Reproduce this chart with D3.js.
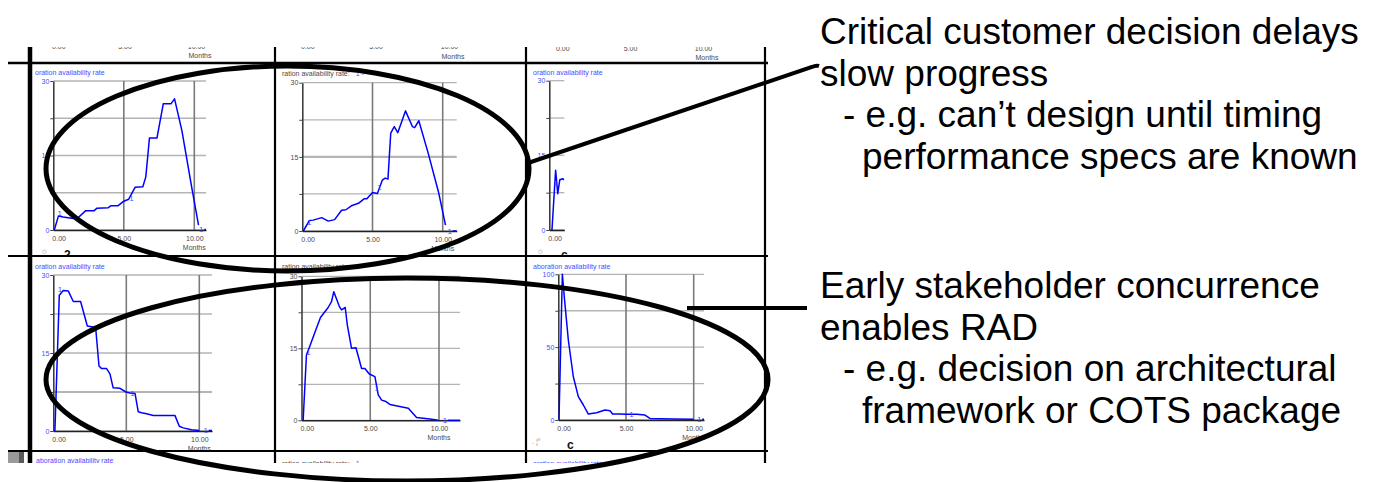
<!DOCTYPE html>
<html><head><meta charset="utf-8">
<script src="https://cdn.jsdelivr.net/npm/d3@7"></script>
<style>
html,body{margin:0;padding:0;background:#fff;}
svg{display:block;font-family:"Liberation Sans",Arial,sans-serif;}
</style></head><body>
<svg id="c" width="1374" height="482"></svg>
<script>
// ---------- data ----------
const xTickValues = [0, 5, 10];
const xTickLabels = ["0.00", "5.00", "10.00"];
const xAxisTitle = "Months";
const yTicks30 = [0, 15, 30];
const yMinor30 = [7.5, 22.5];
const yTicks100 = [0, 50, 100];
const yMinor100 = [25, 75];

const titleBlue = "oration availability rate";
const titleBlue2 = "aboration availability rate";
const titleGray = "ration availability rate:";
const titleGrayKey = "1 -";

// panel 1 (top-left)
const p1Months = [0.07,0.36,0.7,1.66,2.3,2.9,3.1,3.9,4.1,4.6,5.0,5.35,5.8,6.35,6.56,6.82,7.35,7.8,8.34,8.6,9.12,9.83,10.3];
const p1Rate   = [0,2.8,2.6,2.2,3.9,3.9,4.4,4.5,4.9,4.9,5.8,6.2,8.6,8.7,10.7,18.5,18.5,25.4,25.4,26.4,20,8.4,1.0];
const p1MarkM  = [0.45,5.55,10.5];
const p1MarkV  = [3.4,6.4,0.1];
// panel 2 (top-middle)
const p2Months = [0.07,0.5,0.78,1.38,1.85,2.3,2.8,3.1,3.5,4.0,4.4,4.6,5.0,5.35,5.7,5.9,6.1,6.3,6.55,6.8,7.35,7.85,8.0,8.3,8.97,9.7,10.2];
const p2Rate   = [0,2.1,2.2,2.7,2.0,2.3,4.2,4.3,5.1,5.6,6.5,6.5,7.8,7.6,10.3,10.7,10.5,19.8,21.1,19.9,24.3,21.1,20.9,22.3,15.7,7.9,1.2];
const p2MarkM  = [0.5,5.5,10.5];
const p2MarkV  = [1.7,8.9,0];
// panel 3 (top-right)
const p3Months = [0.19,0.45,0.5,0.6,0.75,0.95,1.07];
const p3Rate   = [0,12.0,10.5,7.3,10.1,10.3,10.1];
const p3MarkM  = [0.46];
const p3MarkV  = [9.5];
// panel 4 (bottom-left)
const p4Months = [0.11,0.41,0.68,1.03,1.37,1.87,2.33,2.9,3.13,3.31,3.65,3.88,4.1,4.57,4.98,5.25,5.6,5.82,6.05,6.39,6.85,8.33,8.63,8.9,9.47,10.0];
const p4Rate   = [0,26.1,27,26.9,24.9,24.9,20.2,19.9,12.5,12.0,12.0,11.0,8.3,8.2,7.5,7.3,7.2,3.7,3.5,3.3,3.0,3.0,0.9,0.6,0.26,0.1];
const p4MarkM  = [0.46,5.43,10.44];
const p4MarkV  = [27.2,7.25,0.1];
// panel 5 (bottom-middle)
const p5Months = [0.12,0.36,0.61,0.97,1.38,1.94,2.18,2.35,2.74,2.91,3.18,3.33,3.64,3.96,4.37,4.61,4.93,5.34,5.58,5.83,6.14,6.43,7.77,8.37,9.34,9.95];
const p5Rate   = [0,13.6,15.5,18.3,21.4,23.5,24.7,26.8,23.8,23.0,23.5,19.9,15.0,15.1,10.8,10.8,9.65,9.1,5.3,4.2,3.9,3.3,2.5,0.56,0.28,0];
const p5MarkM  = [0.5,5.47,10.44];
const p5MarkV  = [14.1,6.7,0];
// panel 6 (bottom-right)
const p6Months = [0.05,0.30,0.44,0.74,1.11,1.48,1.85,2.22,2.83,3.45,3.82,4.01,4.56,5.0,5.79,6.4,6.77,7.5,8.5,10.0];
const p6Rate   = [0,100,84.7,54.9,29.7,16,10.3,4.1,5.0,6.9,6.4,4.1,4.1,3.9,3.9,3.4,1.1,0.9,0.7,0.5];
const p6MarkM  = [0.32,5.41,10.41];
const p6MarkV  = [89.7,3.9,0.5];

const noteTop = ["Critical customer decision delays", "slow progress", "- e.g. can\u2019t design until timing", "performance specs are known"];
const noteBottom = ["Early stakeholder concurrence", "enables RAD", "- e.g. decision on architectural", "framework or COTS package"];

// ---------- drawing ----------
const BLUE = "#0000ff", TBLUE = "#4a4aff", TGRAY = "#4a4a4a";
const svg = d3.select("#c");
const defs = svg.append("defs");
defs.append("clipPath").attr("id", "scr")
  .append("rect").attr("x", 6).attr("y", 47).attr("width", 764).attr("height", 416);
defs.append("clipPath").attr("id", "row1")
  .append("rect").attr("x", 6).attr("y", 64).attr("width", 764).attr("height", 191);
defs.append("clipPath").attr("id", "row2")
  .append("rect").attr("x", 6).attr("y", 257).attr("width", 764).attr("height", 193);
const scr = svg.append("g").attr("clip-path", "url(#scr)");

function xAxisLabels(g, x, yB, ticks, monthsY) {
  const ax = d3.axisBottom(x).tickValues(ticks).tickSize(0).tickPadding(6)
    .tickFormat(d => xTickLabels[xTickValues.indexOf(d)]);
  const a = g.append("g").attr("transform", `translate(0,${yB})`).call(ax);
  a.select(".domain").remove();
  a.selectAll("text").attr("font-size", 7).attr("fill", TGRAY)
    .attr("font-family", "Liberation Sans, Arial, sans-serif")
    .attr("text-anchor", d => d === 0 ? "start" : "middle")
    .attr("dx", d => d === 0 ? -1.5 : 0);
  if (monthsY !== null && ticks.includes(10)) {
    g.append("text").attr("x", x(10)).attr("y", monthsY).attr("text-anchor", "middle")
      .attr("font-size", 7).attr("fill", TGRAY).text(xAxisTitle);
  }
}

function panel(cfg, months, rates, mM, mV) {
  const xMax = 10 * (cfg.xR - cfg.x0) / (cfg.x10 - cfg.x0);
  const x = d3.scaleLinear().domain([0, xMax]).range([cfg.x0, cfg.xR]);
  const y = d3.scaleLinear().domain([0, cfg.yMax]).range([cfg.yB, cfg.yT]);
  const g = scr.append("g").attr("clip-path", `url(#${cfg.row})`);
  const majors = cfg.yMax === 100 ? yTicks100 : yTicks30;
  const minors = cfg.yMax === 100 ? yMinor100 : yMinor30;
  const allY = majors.concat(minors).sort((a, b) => a - b);
  // horizontal grid
  g.selectAll(null).data(allY).join("line")
    .attr("x1", cfg.x0).attr("x2", cfg.xR).attr("y1", d => y(d)).attr("y2", d => y(d))
    .attr("stroke", "#b4b4b4").attr("stroke-width", d => (cfg.thick === d ? 2.2 : 1.3));
  // vertical grid
  g.selectAll(null).data([5, 10].filter(d => d <= xMax)).join("line")
    .attr("x1", d => x(d)).attr("x2", d => x(d)).attr("y1", cfg.yT).attr("y2", cfg.yB)
    .attr("stroke", "#7a7a7a").attr("stroke-width", 1.6);
  // y axis
  const ya = g.append("g").attr("transform", `translate(${cfg.x0},0)`)
    .call(d3.axisLeft(y).tickValues(allY).tickSize(3).tickSizeOuter(0).tickPadding(1)
      .tickFormat(d => majors.includes(d) ? d : ""));
  ya.select(".domain").attr("stroke", "#333").attr("stroke-width", 1.5);
  ya.selectAll(".tick line").attr("stroke", "#444");
  ya.selectAll("text").attr("font-size", 7).attr("fill", cfg.yCol)
    .attr("font-family", "Liberation Sans, Arial, sans-serif");
  // x axis line
  const xa = g.append("g").attr("transform", `translate(0,${cfg.yB})`)
    .call(d3.axisBottom(x).tickValues([]).tickSizeOuter(0));
  xa.select(".domain").attr("stroke", "#222").attr("stroke-width", 1.6);
  xAxisLabels(g, x, cfg.yB, xTickValues.filter(d => d <= xMax), cfg.yB + 19.5);
  // title
  const t = g.append("text").attr("x", cfg.tx).attr("y", cfg.ty).attr("font-size", 7);
  if (cfg.gray) {
    t.append("tspan").attr("fill", TGRAY).text(titleGray);
    t.append("tspan").attr("fill", TBLUE).attr("dx", 6).text(titleGrayKey);
  } else {
    t.attr("fill", TBLUE).text(cfg.title);
  }
  // series
  const pts = d3.zip(months, rates);
  const pc = g.append("g");
  pc.append("clipPath").attr("id", "pc" + cfg.id).append("rect")
    .attr("x", cfg.x0).attr("y", cfg.yT - 4).attr("width", cfg.xR - cfg.x0).attr("height", cfg.yB - cfg.yT + 6);
  pc.append("path").attr("clip-path", `url(#pc${cfg.id})`).datum(pts)
    .attr("d", d3.line().x(d => x(d[0])).y(d => y(d[1])))
    .attr("fill", "none").attr("stroke", BLUE).attr("stroke-width", 1.5).attr("stroke-linejoin", "round");
  const mk = d3.zip(mM, mV);
  g.selectAll(null).data(mk).join("text")
    .attr("x", d => x(d[0])).attr("y", d => y(d[1])).attr("dy", "0.35em")
    .attr("text-anchor", "middle").attr("font-size", 8).attr("fill", TBLUE).text("1");
  if (cfg.endDash) {
    const last = mk[mk.length - 1];
    g.append("line").attr("x1", x(last[0]) + 3).attr("x2", cfg.xR)
      .attr("y1", y(last[1])).attr("y2", y(last[1]))
      .attr("stroke", BLUE).attr("stroke-width", 1.5);
  }
  return g;
}

// remnants of upper panels (tick labels cut by the screenshot edge)
function remnant(x0, x10, yLab, yMonths) {
  const x = d3.scaleLinear().domain([0, 10]).range([x0, x10]);
  const g = scr.append("g");
  xAxisLabels(g, x, yLab - 11, xTickValues, null);
  g.append("text").attr("x", x(10) + 4).attr("y", yMonths).attr("text-anchor", "middle")
    .attr("font-size", 7).attr("fill", TGRAY).text(xAxisTitle);
}
remnant(53, 196, 48.8, 58);
remnant(302, 449, 48.8, 59);
remnant(557, 703, 51.5, 60);

const g1 = panel({id:1, row:"row1", x0:53.3, x10:194.3, xR:206, yT:81, yB:230, yMax:30, tx:35, ty:75, title:titleBlue, yCol:TBLUE, endDash:true}, p1Months, p1Rate, p1MarkM, p1MarkV);
panel({id:2, row:"row1", x0:302.3, x10:442.7, xR:456.7, yT:82.7, yB:231, yMax:30, tx:282, ty:76, gray:true, yCol:TGRAY, endDash:true, thick:15}, p2Months, p2Rate, p2MarkM, p2MarkV);
const g3 = panel({id:3, row:"row1", x0:549.3, x10:689.7, xR:564.3, yT:80.7, yB:230, yMax:30, tx:533, ty:75, title:titleBlue, yCol:TBLUE, endDash:false}, p3Months, p3Rate, p3MarkM, p3MarkV);
panel({id:4, row:"row2", x0:53.3, x10:199.3, xR:212, yT:275, yB:431, yMax:30, tx:35, ty:268.5, title:titleBlue, yCol:TBLUE, endDash:true, thick:7.5}, p4Months, p4Rate, p4MarkM, p4MarkV);
panel({id:5, row:"row2", x0:301.5, x10:439, xR:460, yT:276.3, yB:420.3, yMax:30, tx:282, ty:269, gray:true, yCol:TGRAY, endDash:true}, p5Months, p5Rate, p5MarkM, p5MarkV);
const g6 = panel({id:6, row:"row2", x0:558.3, x10:693.7, xR:704, yT:274.3, yB:420, yMax:100, tx:533, ty:268.5, title:titleBlue2, yCol:TBLUE, endDash:true}, p6Months, p6Rate, p6MarkM, p6MarkV);

// small cut icons inside the panels (clipped by panel bottom)
[[g1, 40, 254, "\u263C"], [g3, 536, 254, "\u263C"]].forEach(d =>
  d[0].append("text").attr("x", d[1]).attr("y", d[2]).attr("font-size", 9).attr("fill", "#999").text(d[3]));
[[g1, 64, 259, "2"], [g3, 561, 259, "c"], [g6, 567, 449, "c"]].forEach(d =>
  d[0].append("text").attr("x", d[1]).attr("y", d[2]).attr("font-size", 12).attr("font-weight", "bold").attr("fill", "#111").text(d[3]));
g6.append("text").attr("x", 532).attr("y", 444).attr("font-size", 7).attr("fill", "#777").text(".  \u00A6\u00B0");

// bottom remnants (next row titles, cut)
scr.append("text").attr("x", 36).attr("y", 462.5).attr("font-size", 7).attr("fill", TBLUE).text(titleBlue2);
const bm = scr.append("text").attr("x", 282).attr("y", 465.5).attr("font-size", 7);
bm.append("tspan").attr("fill", TGRAY).text(titleGray);
bm.append("tspan").attr("fill", TBLUE).attr("dx", 6).text("1");
scr.append("text").attr("x", 533).attr("y", 465.5).attr("font-size", 7).attr("fill", TBLUE).text("aration availability rate");
scr.append("rect").attr("x", 8).attr("y", 452).attr("width", 12).attr("height", 11).attr("fill", "#9a9a9a");
scr.append("rect").attr("x", 19).attr("y", 452).attr("width", 5).attr("height", 11).attr("fill", "#5a5a5a");

// frame lines
const hLines = [63, 256, 451];
scr.selectAll(null).data(hLines).join("line")
  .attr("x1", 8).attr("x2", 768).attr("y1", d => d).attr("y2", d => d)
  .attr("stroke", "#000").attr("stroke-width", (d, i) => i === 0 ? 2.6 : 2.2);
const vLines = [30, 275, 526, 765];
scr.selectAll(null).data(vLines).join("line")
  .attr("x1", d => d).attr("x2", d => d).attr("y1", 47).attr("y2", 463)
  .attr("stroke", "#000").attr("stroke-width", (d, i) => i === 0 ? 4.5 : 2.2);

// annotations
svg.append("ellipse").attr("cx", 287.5).attr("cy", 168.5).attr("rx", 241.5).attr("ry", 102.5)
  .attr("fill", "none").attr("stroke", "#000").attr("stroke-width", 5);
svg.append("ellipse").attr("cx", 407).attr("cy", 379.5).attr("rx", 361).attr("ry", 101.5)
  .attr("fill", "none").attr("stroke", "#000").attr("stroke-width", 5);
svg.append("path").attr("d", "M528,163 L812,67 Q816,65 819,66")
  .attr("fill", "none").attr("stroke", "#000").attr("stroke-width", 4);
svg.append("line").attr("x1", 687).attr("x2", 807).attr("y1", 308).attr("y2", 308)
  .attr("stroke", "#000").attr("stroke-width", 4);

function note(lines, y0) {
  const xs = [820, 820, 843, 862];
  lines.forEach((s, i) => {
    svg.append("text").attr("x", xs[i]).attr("y", y0 + i * 41.5)
      .attr("font-size", 37).attr("fill", "#000").text(s);
  });
}
note(noteTop, 44);
note(noteBottom, 298);
</script>
</body></html>
